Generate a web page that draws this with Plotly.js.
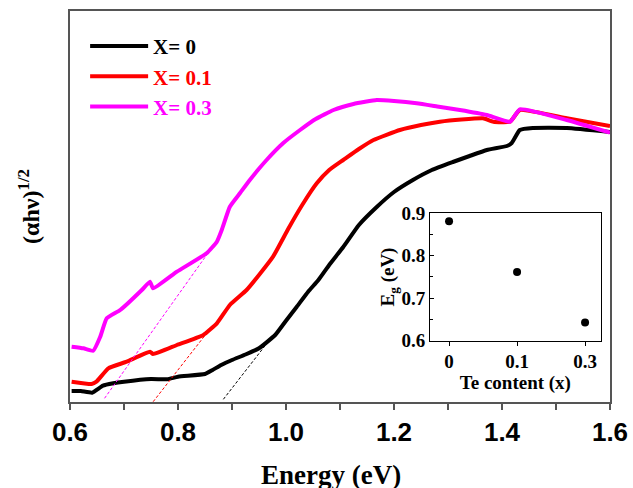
<!DOCTYPE html>
<html>
<head>
<meta charset="utf-8">
<script src="https://cdn.plot.ly/plotly-3.0.1.min.js"></script>
<style>html,body{margin:0;padding:0;background:#fff;}#chart{width:633px;height:488px;}</style>
</head>
<body>
<div id="chart"></div>
<script>
// Energy (eV) and (alpha h nu)^(1/2) in arbitrary units
const x0 = [0.603,0.62,0.641,0.661,0.68,0.70,0.75,0.78,0.80,0.85,0.864,0.88,0.90,0.925,0.95,0.98,1.00,1.02,1.041,1.06,1.08,1.106,1.135,1.168,1.20,1.235,1.27,1.309,1.34,1.372,1.409,1.418,1.433,1.457,1.52,1.60];
const y0 = [0.11,0.11,0.093,0.163,0.187,0.203,0.23,0.227,0.253,0.28,0.32,0.37,0.42,0.475,0.537,0.67,0.813,0.953,1.103,1.22,1.37,1.55,1.77,1.95,2.10,2.22,2.32,2.40,2.46,2.52,2.56,2.59,2.72,2.74,2.74,2.70];

const x01 = [0.603,0.64,0.649,0.671,0.705,0.748,0.754,0.798,0.847,0.872,0.896,0.927,0.95,0.976,1.004,1.03,1.057,1.08,1.106,1.135,1.162,1.211,1.25,1.285,1.325,1.365,1.384,1.415,1.433,1.52,1.60];
const y01 = [0.203,0.18,0.203,0.337,0.403,0.503,0.48,0.57,0.67,0.787,0.97,1.12,1.27,1.453,1.73,1.97,2.187,2.32,2.42,2.53,2.62,2.72,2.77,2.803,2.825,2.837,2.803,2.803,2.92,2.837,2.76];

const x03 = [0.603,0.625,0.643,0.656,0.668,0.693,0.733,0.748,0.754,0.798,0.853,0.872,0.881,0.896,0.915,0.933,0.964,0.995,1.026,1.055,1.088,1.125,1.168,1.20,1.242,1.28,1.322,1.372,1.415,1.433,1.52,1.60];
const y03 = [0.553,0.537,0.513,0.653,0.837,0.92,1.12,1.203,1.137,1.303,1.487,1.603,1.72,1.953,2.09,2.22,2.42,2.59,2.72,2.83,2.92,2.98,3.02,3.01,2.987,2.955,2.92,2.87,2.803,2.927,2.82,2.693];

// Tauc extrapolation lines
const fit0x = [0.884,0.967], fit0y = [0.027,0.603];
const fit01x = [0.754,0.853], fit01y = [0.003,0.687];
const fit03x = [0.664,0.853], fit03y = [0.037,1.47];

// Inset: band gap vs Te content
const teLabels = ["0","0.1","0.3"];
const teIndex = [0,1,2];
const eg = [0.881,0.762,0.643];

const names = ["X= 0","X= 0.1","X= 0.3"];
const colors = ["#000000","#ff0000","#ff00ff"];

const serifB = {family:"Liberation Serif, Times New Roman, serif", weight:"bold", color:"#000"};
const sansB = {family:"Liberation Sans, Arial, sans-serif", weight:"bold", color:"#000"};

const traces = [];
[[x0,y0],[x01,y01],[x03,y03]].forEach((d,i)=>{
  traces.push({x:d[0], y:d[1], type:"scatter", mode:"lines",
    name:'<span style="color:'+colors[i]+'">'+names[i]+'</span>',
    line:{color:colors[i], width:4, shape:"spline", smoothing:0.4}, xaxis:"x", yaxis:"y"});
});
[[fit0x,fit0y],[fit01x,fit01y],[fit03x,fit03y]].forEach((d,i)=>{
  traces.push({x:d[0], y:d[1], type:"scatter", mode:"lines", showlegend:false,
    line:{color:colors[i], width:1, dash:"3px,2px"}, xaxis:"x", yaxis:"y"});
});
traces.push({x:teIndex, y:eg, type:"scatter", mode:"markers", showlegend:false,
  marker:{color:"#000", size:8}, xaxis:"x2", yaxis:"y2"});

const layout = {
  width:633, height:488,
  margin:{l:70, r:23, t:11, b:86},
  paper_bgcolor:"#fff", plot_bgcolor:"#fff",
  showlegend:true,
  legend:{x:0.028, y:0.962, xanchor:"left", yanchor:"top", bgcolor:"rgba(0,0,0,0)",
    font:Object.assign({size:21}, serifB), itemwidth:58, tracegroupgap:0},
  xaxis:{range:[0.6,1.6], domain:[0,1], showline:true, mirror:true, linecolor:"#555", linewidth:2,
    showgrid:false, zeroline:false, ticks:"outside", ticklen:6, tickwidth:1.5, tickcolor:"#555",
    dtick:0.2, tick0:0.6, tickformat:".1f",
    minor:{dtick:0.1, ticks:"outside", ticklen:6, tickwidth:1.5, tickcolor:"#555"},
    tickfont:Object.assign({size:26}, sansB)},
  yaxis:{range:[0,3.91], domain:[0,1], showline:true, mirror:true, linecolor:"#555", linewidth:2,
    showgrid:false, zeroline:false, ticks:"", showticklabels:false,
    title:{text:"\u00a0\u00a0\u00a0\u00a0\u00a0(αhν)<sup>1/2</sup>", font:Object.assign({size:24}, serifB), standoff:22}},
  xaxis2:{domain:[0.6667,0.9828], anchor:"y2", range:[-0.28,2.23], showline:true, mirror:true,
    linecolor:"#000", linewidth:1, showgrid:false, zeroline:false,
    tickvals:teIndex, ticktext:teLabels, ticks:"outside", ticklen:4, tickcolor:"#000",
    tickfont:Object.assign({size:19}, serifB),
    title:{text:"Te content (x)", font:Object.assign({size:19}, serifB), standoff:4}},
  yaxis2:{domain:[0.1568,0.4826], anchor:"x2", range:[0.6,0.9], showline:true, mirror:true,
    linecolor:"#000", linewidth:1, showgrid:false, zeroline:false,
    dtick:0.1, tick0:0.6, tickformat:".1f", ticks:"inside", ticklen:4, tickcolor:"#000",
    minor:{dtick:0.05, ticks:"inside", ticklen:3, tickcolor:"#000"},
    tickfont:Object.assign({size:19}, serifB),
    title:{text:"E<sub>g</sub> (eV)", font:Object.assign({size:19}, serifB), standoff:0}},
  annotations:[{text:"Energy (eV)", xref:"paper", yref:"paper", x:0.4833, y:-0.187,
    xanchor:"center", yanchor:"middle", showarrow:false, font:Object.assign({size:27}, serifB)}]
};

Plotly.newPlot("chart", traces, layout, {displayModeBar:false, staticPlot:true});
</script>
</body>
</html>
